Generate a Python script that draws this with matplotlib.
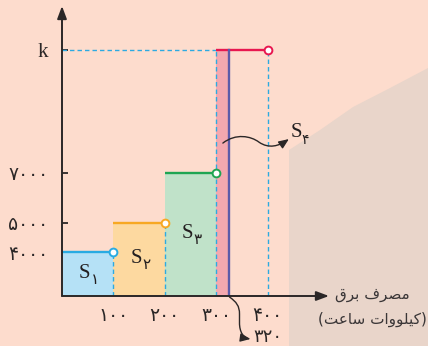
import matplotlib
matplotlib.use("Agg")
import matplotlib.pyplot as plt
import numpy as np
from matplotlib.patches import FancyArrowPatch, Polygon
from matplotlib.path import Path
from matplotlib.transforms import Affine2D, ScaledTranslation

# ── data ────────────────────────────────────────────────────────────────
usage_edges  = [0, 100, 200, 300, 400]
tier_prices  = [4000, 5000, 7000, 10000]          # last tier is the symbolic k
price_labels = ["۴۰۰۰", "۵۰۰۰", "۷۰۰۰", "k"]
usage_labels = ["۱۰۰", "۲۰۰", "۳۰۰", "۴۰۰"]
area_subs    = ["۱", "۲", "۳", "۴"]
marked_usage = 320
marked_label = "۳۲۰"

# Persian axis title, written in shaped glyphs (visual order)
xlabel_top = "\ufed5\ufeae\ufe91 \ufed1\ufeae\ufebc\ufee3"                       # مصرف برق
xlabel_bot = "(\ufe96\ufecb\ufe8e\ufeb3 \ufe95\ufe8d\ufeed\ufeee\ufee0\ufbff\ufb90)"  # (کیلووات ساعت)

# ── style ───────────────────────────────────────────────────────────────
bg_color    = "#FDDCCD"
shade_color = "#E9D5CA"
axis_color  = "#2B2727"
dash_color  = "#2DAAE1"
line_colors = ["#29ABE2", "#F7A823", "#1FA552", "#E8174F"]
fill_colors = ["#B5E1F6", "#FDD9A0", "#C0E2C9", "#F4A8AF"]
mark_color  = "#5D5AA8"

# schematic (non-linear) axes: value -> pixel distance from the origin
scale_vals = [0, 4000, 5000, 7000, 10000, 12000]
scale_px   = [0, 44, 73, 123, 246, 290]
usage_vals = [0, 300, 320, 400, 520]
usage_px   = [0, 154, 166.5, 205.5, 267]


def fwd(v):
    return np.interp(v, scale_vals, scale_px)


def inv(p):
    return np.interp(p, scale_px, scale_vals)


def xfwd(v):
    return np.interp(v, usage_vals, usage_px)


def xinv(p):
    return np.interp(p, usage_px, usage_vals)


W, H = 428, 346
fig = plt.figure(figsize=(W / 100, H / 100), dpi=100, facecolor=bg_color)

# page shadow in the right part of the picture
shade = Polygon([(289, 346), (289, 150), (320, 130), (353, 107), (390, 88),
                 (428, 68), (428, 346)], closed=True)
shade.set_xy([(x / W, 1 - y / H) for x, y in shade.get_xy()])
shade.set(transform=fig.transFigure, facecolor=shade_color, edgecolor="none", zorder=-1)
fig.add_artist(shade)

xmax = 520
ax = fig.add_axes([62 / W, 50 / H, 267 / W, 290 / H])
ax.set_facecolor("none")
ax.set_xscale("function", functions=(xfwd, xinv))
ax.set_yscale("function", functions=(fwd, inv))
ax.set_xlim(0, xmax)
ax.set_ylim(0, 12000)
for sp in ax.spines.values():
    sp.set_visible(False)

k_val = tier_prices[3]

# shaded areas
for i in range(3):
    ax.fill_between([usage_edges[i], usage_edges[i + 1]], 0, tier_prices[i],
                    color=fill_colors[i], lw=0, zorder=1)
ax.fill_between([usage_edges[3], marked_usage], 0, k_val,
                color=fill_colors[3], lw=0, zorder=1)

# dashed guide lines
dash_kw = dict(color=dash_color, lw=1.0, dashes=(3.2, 2.2), zorder=2)
ax.plot([0, usage_edges[3]], [k_val, k_val], **dash_kw)
guide_tops = [tier_prices[0], tier_prices[1], k_val, k_val]
for x, top in zip(usage_edges[1:], guide_tops):
    ax.plot([x, x], [0, top], **dash_kw)

# tariff steps
for i, price in enumerate(tier_prices):
    ax.plot([usage_edges[i], usage_edges[i + 1]], [price, price],
            color=line_colors[i], lw=1.7, solid_capstyle="butt", zorder=3)

ax.plot([marked_usage, marked_usage], [0, k_val], color=mark_color, lw=1.7, zorder=3)

for i, price in enumerate(tier_prices):
    ax.plot(usage_edges[i + 1], price, "o", ms=5.6, mfc="white",
            mec=line_colors[i], mew=1.4, zorder=4, clip_on=False)

# axes with arrow heads
arrow_kw = dict(arrowstyle="-|>,head_length=0.75,head_width=0.28", lw=1.4,
                color=axis_color, shrinkA=0, shrinkB=0)
ax.annotate("", xy=(xmax, 0), xytext=(0, 0), arrowprops=arrow_kw,
            annotation_clip=False, zorder=5)
ax.annotate("", xy=(0, 12000), xytext=(0, 0), arrowprops=arrow_kw,
            annotation_clip=False, zorder=5)

# ticks
ax.set_yticks(tier_prices, price_labels)
ax.tick_params(axis="y", direction="in", length=4.5, width=1.3, color=axis_color,
               pad=10, labelsize=13.5, labelcolor=axis_color)
ax.get_yticklabels()[-1].set_fontfamily("Liberation Serif")
ax.get_yticklabels()[-1].set_fontsize(15)
ax.set_xticks(usage_edges[1:], usage_labels)
ax.tick_params(axis="x", length=0, pad=7, labelsize=13.5, labelcolor=axis_color)
ax.minorticks_off()

# area labels S1..S3 in the middle of each block
for i in range(3):
    xc = (usage_edges[i] + usage_edges[i + 1]) / 2
    yc = inv(fwd(tier_prices[i]) / 2)
    ax.annotate("S", (xc, yc), xytext=(-3, 1), textcoords="offset pixels",
                ha="center", va="center", fontsize=15,
                family="Liberation Serif", color="#231F20", zorder=6)
    ax.annotate(area_subs[i], (xc, yc), xytext=(7, -5), textcoords="offset pixels",
                ha="center", va="center", fontsize=11, color="#231F20", zorder=6)


def px_path(anchor, pts, codes):
    trans = Affine2D() + ScaledTranslation(anchor[0], anchor[1], ax.transData)
    return Path(pts, codes), trans


# wavy pointer to S4
s4_anchor = (marked_usage - 9, 7730)
path, trans = px_path(s4_anchor,
                      [(0, 0), (13, 10), (28, 7), (36, 1), (46, -6), (56, -3), (66, 4)],
                      [Path.MOVETO] + [Path.CURVE4] * 6)
fig.add_artist(FancyArrowPatch(path=path, transform=trans, arrowstyle="-|>,head_length=6,head_width=2.5",
                               color=axis_color, lw=1.0, zorder=6))
ax.annotate("S", s4_anchor, xytext=(73, 11), textcoords="offset pixels",
            ha="center", va="center", fontsize=15, family="Liberation Serif",
            color="#231F20", annotation_clip=False, zorder=6)
ax.annotate(area_subs[3], s4_anchor, xytext=(82, 3), textcoords="offset pixels",
            ha="center", va="center", fontsize=10, color="#231F20",
            annotation_clip=False, zorder=6)

# curved pointer to the 320 mark
path, trans = px_path((marked_usage, 0),
                      [(1, -1), (8, -6), (11, -10), (11, -18), (11, -27),
                       (11, -36), (15, -42), (22, -43)],
                      [Path.MOVETO, Path.CURVE4, Path.CURVE4, Path.CURVE4,
                       Path.LINETO, Path.CURVE4, Path.CURVE4, Path.CURVE4])
fig.add_artist(FancyArrowPatch(path=path, transform=trans, arrowstyle="-|>,head_length=6,head_width=2.5",
                               color=axis_color, lw=1.0, zorder=6))
ax.annotate(marked_label, (marked_usage, 0), xytext=(25, -41), textcoords="offset pixels",
            ha="left", va="center", fontsize=13, color=axis_color,
            annotation_clip=False, zorder=6)

# axis title
ax.annotate(xlabel_top, (xmax, 0), xytext=(43, 2), textcoords="offset pixels",
            ha="center", va="center", fontsize=11, color="#3A3637", annotation_clip=False)
ax.annotate(xlabel_bot, (xmax, 0), xytext=(43, -23), textcoords="offset pixels",
            ha="center", va="center", fontsize=11, color="#3A3637", annotation_clip=False)

fig.savefig("out.png", dpi=100, facecolor=bg_color)
